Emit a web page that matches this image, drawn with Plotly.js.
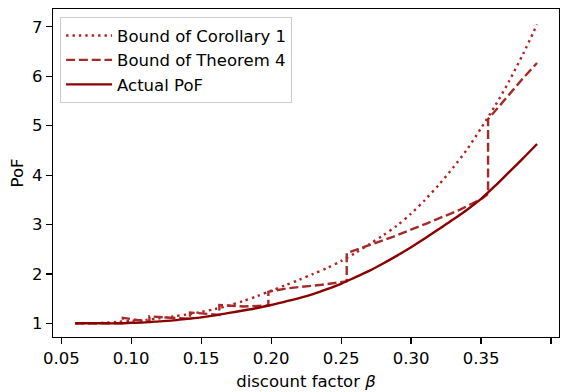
<!DOCTYPE html>
<html>
<head>
<meta charset="utf-8">
<script src="https://cdn.plot.ly/plotly-3.0.1.min.js"></script>
<style>
  html, body { margin: 0; padding: 0; background: #fff; }
  #chart { width: 567px; height: 392px; }
</style>
</head>
<body>
<div id="chart"></div>
<script>
// Discount factor grid for the smooth curves
const beta = [0.06, 0.07, 0.08, 0.09, 0.10, 0.11, 0.12, 0.13, 0.14, 0.15, 0.16, 0.17,
              0.18, 0.19, 0.20, 0.21, 0.22, 0.23, 0.24, 0.25, 0.26, 0.27, 0.28, 0.29,
              0.30, 0.31, 0.32, 0.33, 0.34, 0.35, 0.36, 0.37, 0.38, 0.39];

// Bound of Corollary 1
const corollaryBound = [1.00, 1.00, 1.01, 1.03, 1.05, 1.07, 1.10, 1.14, 1.18, 1.23, 1.29, 1.36,
                        1.45, 1.55, 1.66, 1.77, 1.88, 2.00, 2.12, 2.26, 2.42, 2.60, 2.78, 2.98,
                        3.22, 3.50, 3.81, 4.15, 4.52, 4.95, 5.40, 5.90, 6.45, 7.05];

// Actual price of fairness
const actualPoF = [1.00, 1.00, 1.00, 1.00, 1.01, 1.02, 1.04, 1.06, 1.09, 1.12, 1.16, 1.21,
                   1.26, 1.31, 1.37, 1.44, 1.51, 1.59, 1.69, 1.80, 1.93, 2.06, 2.21, 2.37,
                   2.54, 2.72, 2.91, 3.10, 3.30, 3.52, 3.78, 4.06, 4.34, 4.63];

// Bound of Theorem 4: piecewise, with a jump at each breakpoint (repeated beta)
const thmBeta = [0.06, 0.094, 0.094, 0.103, 0.113, 0.113, 0.127, 0.142, 0.142, 0.152, 0.163,
                 0.163, 0.180, 0.198, 0.198, 0.212, 0.236, 0.254, 0.254, 0.266, 0.287, 0.311,
                 0.335, 0.351, 0.355, 0.355, 0.360, 0.370, 0.380, 0.390];
const thmBound = [1.00, 1.00, 1.11, 1.07, 1.03, 1.14, 1.11, 1.09, 1.22, 1.19, 1.17,
                  1.37, 1.34, 1.36, 1.64, 1.71, 1.78, 1.85, 2.42, 2.54, 2.75, 3.02,
                  3.30, 3.53, 3.62, 5.13, 5.30, 5.63, 5.96, 6.27];

const xTicks = [0.05, 0.10, 0.15, 0.20, 0.25, 0.30, 0.35, 0.40];
const xTickText = ['0.05', '0.10', '0.15', '0.20', '0.25', '0.30', '0.35', '0.40'];
const yTicks = [1, 2, 3, 4, 5, 6, 7];

const FONT = 'DejaVu Sans, sans-serif';
const FS = 16.5;

const traces = [
  {
    x: beta, y: corollaryBound, mode: 'lines', name: 'Bound of Corollary 1',
    line: { color: '#b22222', width: 2.4, dash: '2.4px,4px', shape: 'spline', smoothing: 0.8 }
  },
  {
    x: thmBeta, y: thmBound, mode: 'lines', name: 'Bound of Theorem 4',
    line: { color: '#a52a2a', width: 2.4, dash: '9px,3.8px' }
  },
  {
    x: beta, y: actualPoF, mode: 'lines', name: 'Actual PoF',
    line: { color: '#8b0000', width: 2.4, shape: 'spline', smoothing: 0.8 }
  }
];

const axisCommon = {
  showline: true, mirror: true, linecolor: '#000', linewidth: 1.2,
  ticks: 'outside', ticklen: 6, tickwidth: 1.2, tickcolor: '#000',
  showgrid: false, zeroline: false,
  tickfont: { family: FONT, size: FS, color: '#000' }
};

const layout = {
  width: 567, height: 392,
  margin: { l: 53, r: 8, t: 9, b: 55 },
  paper_bgcolor: '#fff', plot_bgcolor: '#fff',
  font: { family: FONT, size: FS, color: '#000' },
  showlegend: true,
  legend: {
    x: 0.014, y: 0.975, xanchor: 'left', yanchor: 'top',
    itemwidth: 46,
    bgcolor: 'rgba(255,255,255,0.8)', bordercolor: '#cccccc', borderwidth: 1,
    font: { family: FONT, size: FS, color: '#000' }
  },
  xaxis: Object.assign({}, axisCommon, {
    range: [0.0441, 0.4057], tickvals: xTicks, ticktext: xTickText,
    title: { text: 'discount factor <i>β</i>', font: { family: FONT, size: FS, color: '#000' }, standoff: 8 }
  }),
  yaxis: Object.assign({}, axisCommon, {
    range: [0.723, 7.362], tickvals: yTicks,
    title: { text: 'PoF', font: { family: FONT, size: FS, color: '#000' }, standoff: 4 }
  })
};

Plotly.newPlot('chart', traces, layout, { staticPlot: true, displayModeBar: false });
</script>
</body>
</html>
